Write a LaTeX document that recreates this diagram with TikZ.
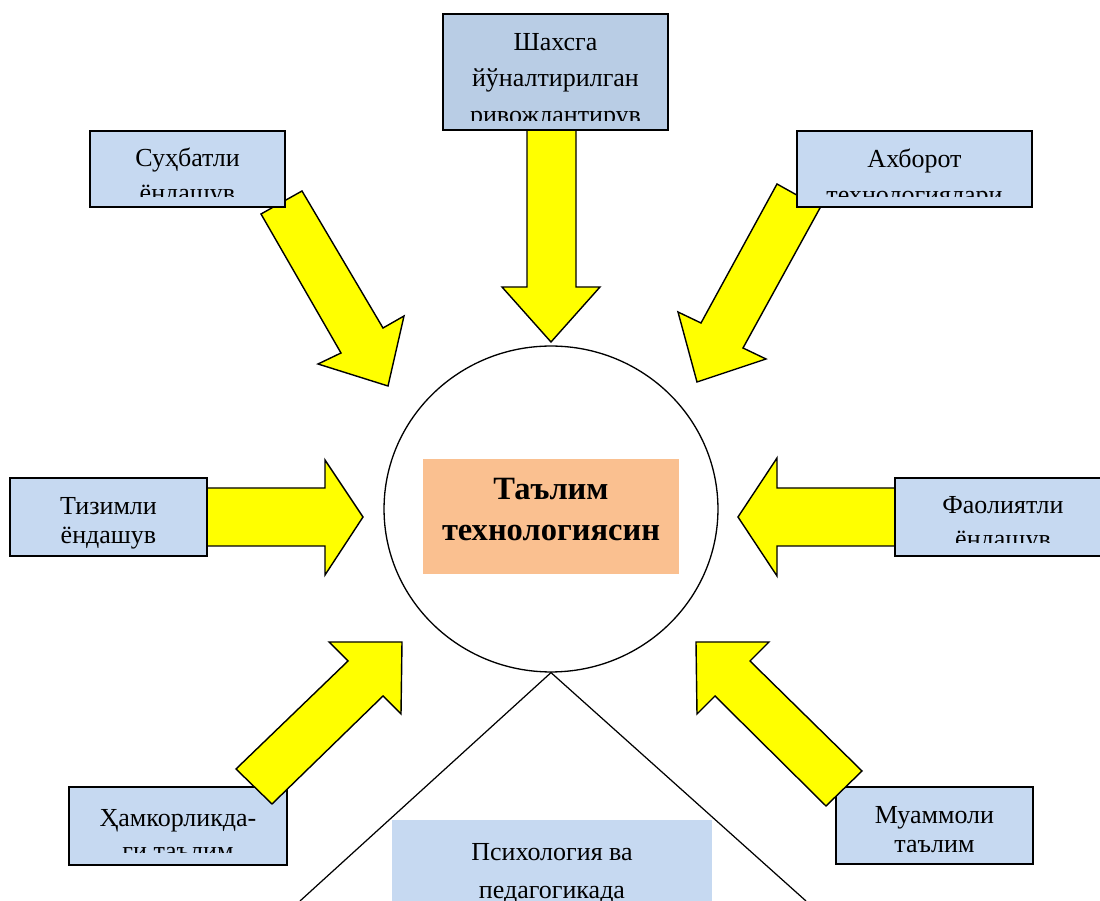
\documentclass[tikz,border=0pt]{standalone}
\usepackage{fontspec}
\setmainfont{Liberation Serif}
\usetikzlibrary{shapes.geometric,positioning}

\definecolor{boxblue}{RGB}{198,217,241}
\definecolor{topblue}{RGB}{185,205,229}
\definecolor{coreorange}{RGB}{250,192,144}
\definecolor{arrowyellow}{RGB}{255,255,0}

\begin{document}
\begin{tikzpicture}[
    x=0.02cm, y=-0.02cm,
    box/.style={rectangle, draw, line width=1.1pt, fill=boxblue, inner sep=0pt, outer sep=0pt},
    boxtxt/.style={align=center, inner sep=0pt, outer sep=0pt, anchor=north, font=\fontsize{14.8pt}{20.4pt}\selectfont},
    lowtxt/.style={boxtxt, font=\fontsize{14.8pt}{17pt}\selectfont},
    cuttxt/.style={boxtxt, font=\fontsize{14.8pt}{19.8pt}\selectfont},
    blockarrow/.style={draw, line width=0.8pt, fill=arrowyellow, line join=miter},
]
\useasboundingbox (0,0) rectangle (1100,901);
\clip (0,0) rectangle (1100,901);

% ====== Centre ======
\node[ellipse, draw, line width=0.75pt, fill=white, minimum width=6.68cm, minimum height=6.52cm, inner sep=0pt] (core) at (551,509) {};
\coordinate (triL) at (300,901);
\coordinate (triR) at (806,901);
\draw[line width=0.7pt] (triL) -- (core.south) -- (triR);
\node[fill=coreorange, minimum width=5.12cm, minimum height=2.3cm, inner sep=0pt] (coreBox) at (551,516.5) {};
\node[boxtxt, font=\bfseries\fontsize{18.5pt}{23.4pt}\selectfont, below=0.39cm of coreBox.north] (coreTxt) {Таълим\\технологиясин};

% ====== Top row ======
\draw[blockarrow] (527,130) -- (576,130) -- (576,287) -- (600,287) -- (551,342) -- (502,287) -- (527,287) -- cycle;
\draw[blockarrow] (261,214) -- (302,191) -- (383,328) -- (404,316) -- (388,386) -- (318,364) -- (341,353) -- cycle;
\draw[blockarrow] (777,184) -- (820,208) -- (743,348) -- (766,359) -- (697,382) -- (678,312) -- (701,323) -- cycle;

\node[box, fill=topblue, minimum width=4.5cm, minimum height=2.32cm] (shaxBox) at (555.5,72) {};
\begin{scope}
  \clip ([yshift=0.18cm]shaxBox.south west) rectangle (shaxBox.north east);
  \node[boxtxt, font=\fontsize{14.8pt}{21pt}\selectfont, below=0.38cm of shaxBox.north] (shaxTxt) {Шахсга\\йўналтирилган\\ривожлантирув};
\end{scope}

\node[box, minimum width=3.9cm, minimum height=1.52cm] (suhBox) at (187.5,169) {};
\begin{scope}
  \clip ([yshift=0.2cm]suhBox.south west) rectangle (suhBox.north east);
  \node[cuttxt, below=0.34cm of suhBox.north] (suhTxt) {Суҳбатли\\ёндашув};
\end{scope}

\node[box, minimum width=4.7cm, minimum height=1.52cm] (axbBox) at (914.5,169) {};
\begin{scope}
  \clip ([yshift=0.2cm]axbBox.south west) rectangle (axbBox.north east);
  \node[boxtxt, below=0.36cm of axbBox.north] (axbTxt) {Ахборот\\технологиялари};
\end{scope}

% ====== Middle row ======
\draw[blockarrow] (207,488) -- (325,488) -- (325,460) -- (363,517) -- (325,575) -- (325,546) -- (207,546) -- cycle;
\draw[blockarrow] (895,488) -- (777,488) -- (777,458) -- (738,517) -- (777,576) -- (777,546) -- (895,546) -- cycle;

\node[box, minimum width=3.94cm, minimum height=1.56cm] (tizBox) at (108.5,517) {};
\node[lowtxt, below=0.38cm of tizBox.north] (tizTxt) {Тизимли\\ёндашув};

\node[box, minimum width=4.32cm, minimum height=1.56cm] (faoBox) at (1003,517) {};
\begin{scope}
  \clip ([yshift=0.26cm]faoBox.south west) rectangle (faoBox.north east);
  \node[cuttxt, below=0.36cm of faoBox.north] (faoTxt) {Фаолиятли\\ёндашув};
\end{scope}

% ====== Bottom row ======
\node[box, minimum width=4.36cm, minimum height=1.56cm] (hamBox) at (178,826) {};
\begin{scope}
  \clip ([yshift=0.24cm]hamBox.south west) rectangle (hamBox.north east);
  \node[boxtxt, font=\fontsize{14.8pt}{19.3pt}\selectfont, below=0.44cm of hamBox.north] (hamTxt) {Ҳамкорликда-\\ги таълим};
\end{scope}

\node[box, minimum width=3.94cm, minimum height=1.54cm] (muaBox) at (934.5,825.5) {};
\node[lowtxt, below=0.38cm of muaBox.north] (muaTxt) {Муаммоли\\таълим};

\draw[blockarrow] (272,804) -- (236,769) -- (348,661) -- (329,642) -- (402,642) -- (401,714) -- (383,696) -- cycle;
\draw[blockarrow] (826,806) -- (862,771) -- (750,661) -- (769,642) -- (696,642) -- (697,714) -- (715,696) -- cycle;

\node[fill=boxblue, minimum width=6.4cm, minimum height=2.2cm, inner sep=0pt] (psyBox) at (552,875) {};
\node[boxtxt, font=\fontsize{14.8pt}{21.5pt}\selectfont, below=0.48cm of psyBox.north] (psyTxt) {Психология ва\\педагогикада};

\end{tikzpicture}
\end{document}
